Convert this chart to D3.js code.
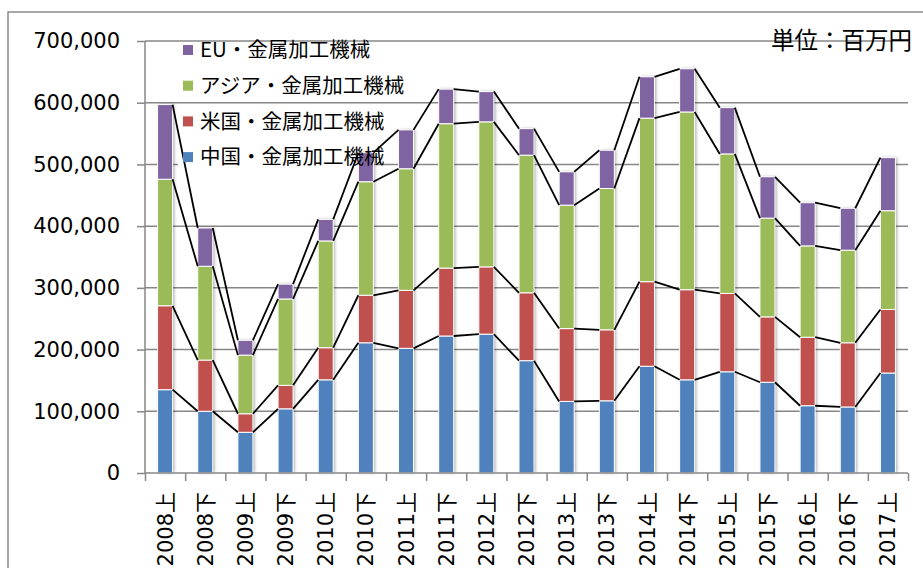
<!DOCTYPE html>
<html>
<head>
<meta charset="utf-8">
<script src="https://cdn.jsdelivr.net/npm/d3@7"></script>
<style>
  body { margin: 0; background: #fff; }
  svg { display: block; }
</style>
</head>
<body>
<svg id="chart" width="923" height="568"></svg>
<script>
"use strict";

var categories = ["2008上", "2008下", "2009上", "2009下", "2010上", "2010下", "2011上", "2011下",
    "2012上", "2012下", "2013上", "2013下", "2014上", "2014下", "2015上", "2015下",
    "2016上", "2016下", "2017上"]
var china = [135000, 100000, 66000, 104000, 151000, 211000, 202000, 222000, 225000, 182000,
    116000, 117000, 173000, 151000, 164000, 147000, 109000, 107000, 162000]
var usa = [136000, 83000, 30000, 38000, 52000, 77000, 94000, 110000, 109000, 110000,
    118000, 115000, 137000, 146000, 127000, 106000, 111000, 104000, 103000]
var asia = [205000, 152000, 95000, 140000, 173000, 184000, 197000, 234000, 235000, 223000,
    200000, 229000, 265000, 288000, 226000, 160000, 148000, 150000, 160000]
var eu = [121000, 62000, 24000, 24000, 35000, 47000, 63000, 56000, 49000, 43000,
    54000, 62000, 67000, 70000, 75000, 67000, 70000, 68000, 86000]
var seriesNames = ["中国・金属加工機械", "米国・金属加工機械", "アジア・金属加工機械", "EU・金属加工機械"]
var yTicks = [0, 100000, 200000, 300000, 400000, 500000, 600000, 700000]
var unitLabel = "単位：百万円"

var colors = ["#4F81BD", "#C0504D", "#9BBB59", "#8064A2"]
var gridColor = "#878787"
var numFont = "'DejaVu Sans', 'Noto Sans CJK JP', sans-serif"
var jpFont = "'Noto Sans CJK JP', sans-serif"

var plotL = 145, plotR = 908, plotT = 41, plotB = 473
var barWidth = 15

var svg = d3.select("#chart")

var rows = categories.map(function(c, i) {
    return { cat: c, s0: china[i], s1: usa[i], s2: asia[i], s3: eu[i] }
})
var keys = ["s0", "s1", "s2", "s3"]
var stacked = d3.stack().keys(keys)(rows)

var step = (plotR - plotL) / categories.length
var pad = 1 - barWidth / step
var x = d3.scaleBand().domain(categories).range([plotL, plotR])
    .paddingInner(pad).paddingOuter(pad / 2)
var xEdges = d3.scaleLinear().domain([0, categories.length]).range([plotL, plotR])
var y = d3.scaleLinear().domain([0, 700000]).range([plotB, plotT])

// shadow for bars
var defs = svg.append("defs")
var filt = defs.append("filter").attr("id", "shadow")
    .attr("x", "-50%").attr("y", "-10%").attr("width", "200%").attr("height", "120%")
filt.append("feDropShadow").attr("dx", 1.5).attr("dy", 0).attr("stdDeviation", 1.8)
    .attr("flood-color", "#000").attr("flood-opacity", 0.35)

// outer frame
svg.append("rect")
    .attr("x", 8).attr("y", 12).attr("width", 940).attr("height", 600)
    .attr("fill", "none").attr("stroke", "#8a8a8a").attr("stroke-width", 1.5)

// gridlines
svg.append("g").selectAll("line")
    .data(yTicks.filter(function(d) { return d > 0 }))
    .enter().append("line")
    .attr("x1", plotL).attr("x2", plotR)
    .attr("y1", function(d) { return y(d) }).attr("y2", function(d) { return y(d) })
    .attr("stroke", gridColor).attr("stroke-width", 1.5)

// legend backing (hides grid under the last entry)
svg.append("rect").attr("x", 178).attr("y", 147).attr("width", 195).attr("height", 24)
    .attr("fill", "#fff")

// bar shadows
svg.append("g").selectAll("rect")
    .data(stacked[stacked.length - 1])
    .enter().append("rect")
    .attr("x", function(d) { return x(d.data.cat) })
    .attr("width", x.bandwidth())
    .attr("y", function(d) { return y(d[1]) })
    .attr("height", function(d) { return y(0) - y(d[1]) })
    .attr("fill", "#fff")
    .attr("filter", "url(#shadow)")

// stacked bars
var layers = svg.append("g").selectAll("g")
    .data(stacked).enter().append("g")
    .attr("fill", function(d, i) { return colors[i] })
layers.selectAll("rect")
    .data(function(d) { return d })
    .enter().append("rect")
    .attr("x", function(d) { return x(d.data.cat) })
    .attr("width", x.bandwidth())
    .attr("y", function(d) { return y(d[1]) })
    .attr("height", function(d) { return y(d[0]) - y(d[1]) })
    .attr("stroke", "#fff").attr("stroke-width", 1)

// series lines
var segs = []
stacked.forEach(function(layer) {
    for (var i = 0; i < layer.length - 1; i++) {
        segs.push({
            x1: x(layer[i].data.cat) + x.bandwidth(), y1: y(layer[i][1]),
            x2: x(layer[i + 1].data.cat), y2: y(layer[i + 1][1])
        })
    }
})
svg.append("g").selectAll("line")
    .data(segs).enter().append("line")
    .attr("x1", function(d) { return d.x1 }).attr("y1", function(d) { return d.y1 })
    .attr("x2", function(d) { return d.x2 }).attr("y2", function(d) { return d.y2 })
    .attr("stroke", "#000").attr("stroke-width", 1.8)

// y axis
var yAxis = svg.append("g").attr("transform", "translate(" + plotL + ",0)")
    .call(d3.axisLeft(y).tickValues(yTicks).tickFormat(d3.format(",")).tickSize(8).tickPadding(17))
yAxis.select(".domain").attr("stroke", gridColor).attr("stroke-width", 1.5)
    .attr("d", "M0," + plotT + "V" + plotB)
yAxis.selectAll(".tick line").attr("stroke", gridColor).attr("stroke-width", 1.5)
yAxis.selectAll(".tick text").attr("fill", "#000")
    .style("font-family", numFont).style("font-size", "21px")

// x axis
var xAxis = svg.append("g").attr("transform", "translate(0," + plotB + ")")
    .call(d3.axisBottom(xEdges).tickValues(d3.range(categories.length + 1)).tickFormat("").tickSize(8))
xAxis.select(".domain").attr("stroke", gridColor).attr("stroke-width", 1.5)
    .attr("d", "M" + plotL + ",0H" + plotR)
xAxis.selectAll(".tick line").attr("stroke", gridColor).attr("stroke-width", 1.5)

svg.append("g").selectAll("text")
    .data(categories).enter().append("text")
    .attr("transform", function(d) {
        return "translate(" + (x(d) + x.bandwidth() / 2) + "," + (plotB + 19) + ") rotate(-90)"
    })
    .attr("text-anchor", "end")
    .attr("dy", "0.36em")
    .style("font-family", numFont).style("font-size", "21px")
    .text(function(d) { return d })

// legend
var legendOrder = [3, 2, 1, 0]
var legend = svg.append("g").selectAll("g")
    .data(legendOrder).enter().append("g")
    .attr("transform", function(d, i) { return "translate(183," + (50 + i * 35.7) + ")" })
legend.append("rect").attr("x", 0).attr("y", -5).attr("width", 10).attr("height", 10)
    .attr("fill", function(d) { return colors[d] })
legend.append("text").attr("x", 17).attr("dy", "0.36em")
    .style("font-family", jpFont).style("font-size", "20.5px")
    .text(function(d) { return seriesNames[d] })

// unit
svg.append("text").attr("x", 912).attr("y", 49).attr("text-anchor", "end")
    .style("font-family", jpFont).style("font-size", "23.5px")
    .text(unitLabel)
</script>
</body>
</html>
